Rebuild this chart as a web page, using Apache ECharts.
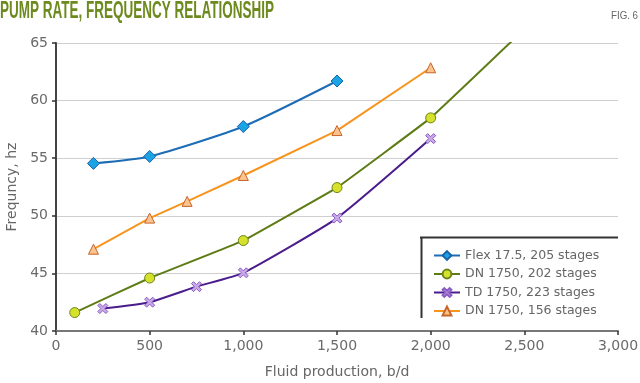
<!DOCTYPE html>
<html><head><meta charset="utf-8">
<script src="https://cdn.jsdelivr.net/npm/echarts@6/dist/echarts.min.js"></script>
<style>html,body{margin:0;padding:0;background:#fff}#c{width:640px;height:383px}</style>
</head><body><div id="c"></div>
<script>
var xTicks = [0, 500, 1000, 1500, 2000, 2500, 3000];
var yTicks = [40, 45, 50, 55, 60, 65];
var seriesNames = ['Flex 17.5, 205 stages', 'DN 1750, 202 stages', 'TD 1750, 223 stages', 'DN 1750, 156 stages'];
var flexX = [200, 500, 1000, 1500];
var flexY = [54.55, 55.15, 57.75, 61.7];
var dn202X = [100, 500, 1000, 1500, 2000, 2500];
var dn202Y = [41.6, 44.6, 47.85, 52.45, 58.5, 66.2];
var tdX = [250, 500, 750, 1000, 1500, 2000];
var tdY = [41.95, 42.5, 43.85, 45.05, 49.8, 56.7];
var dn156X = [200, 500, 700, 1000, 1500, 2000];
var dn156Y = [47.1, 49.8, 51.25, 53.5, 57.4, 62.85];

function pairs(xs, ys) { return xs.map(function (x, i) { return [x, ys[i]]; }); }

var titleText = 'PUMP RATE, FREQUENCY RELATIONSHIP';
var titleFont = 'bold 23px "Liberation Sans Narrow", "Liberation Sans", sans-serif';
var cv = document.createElement('canvas').getContext('2d');
cv.font = titleFont;
var tw = cv.measureText(titleText).width;
var titleScale = 274 / tw;
var figFont = '11px "Liberation Sans Narrow", "Liberation Sans", sans-serif';
cv.font = figFont;
var fw = cv.measureText('FIG. 6').width;
var figScale = 27 / fw;

var crossPath = 'path://M2,0 L5,3 L8,0 L10,2 L7,5 L10,8 L8,10 L5,7 L2,10 L0,8 L3,5 L0,2 Z';

var chart = echarts.init(document.getElementById('c'), null, { renderer: 'canvas' });
var axisFont = 'DejaVu Sans';
chart.setOption({
  animation: false,
  backgroundColor: '#fff',
  grid: { left: 56, right: 22, top: 43, bottom: 52, containLabel: false, outerBoundsMode: 'none' },
  xAxis: {
    type: 'value', min: xTicks[0], max: xTicks[xTicks.length - 1], interval: 500,
    name: 'Fluid production, b/d', nameLocation: 'middle', nameGap: 34,
    nameTextStyle: { fontFamily: axisFont, fontSize: 14, color: '#666' },
    axisLine: { show: true, lineStyle: { color: '#777', width: 2 } },
    axisTick: { show: true, inside: false, length: 4, lineStyle: { color: '#333', width: 1.5 } },
    axisLabel: { fontFamily: axisFont, fontSize: 14, color: '#6a6a6a', margin: 8,
      formatter: function (v) { return v.toLocaleString('en-US'); } },
    splitLine: { show: false }
  },
  yAxis: {
    type: 'value', min: yTicks[0], max: yTicks[yTicks.length - 1], interval: 5,
    name: 'Frequncy, hz', nameLocation: 'middle', nameGap: 36, nameRotate: 90,
    nameTextStyle: { fontFamily: axisFont, fontSize: 14, color: '#666' },
    axisLine: { show: true, lineStyle: { color: '#444', width: 2 } },
    axisTick: { show: true, inside: false, length: 4, lineStyle: { color: '#333', width: 1.5 } },
    axisLabel: { fontFamily: axisFont, fontSize: 14, color: '#6a6a6a', margin: 8 },
    splitLine: { show: true, lineStyle: { color: '#cfcfcf', width: 1 } }
  },
  legend: {
    orient: 'vertical', left: 433, top: 249, itemGap: 5.5, itemWidth: 26, itemHeight: 11,
    padding: 0, z: 10,
    textStyle: { fontFamily: axisFont, fontSize: 12.5, color: '#666' },
    data: seriesNames
  },
  graphic: [
    { type: 'rect', z: 5, shape: { x: 421, y: 237, width: 198, height: 82 }, style: { fill: '#fff' } },
    { type: 'line', z: 6, shape: { x1: 420, y1: 237.5, x2: 618, y2: 237.5 }, style: { stroke: '#333', lineWidth: 2 } },
    { type: 'line', z: 6, shape: { x1: 421.5, y1: 237, x2: 421.5, y2: 318 }, style: { stroke: '#333', lineWidth: 2 } },
    { type: 'text', z: 6, x: 0, y: 0, scaleX: titleScale, style: { text: titleText, font: titleFont, fill: '#6c8a1e' } },
    { type: 'text', z: 6, x: 611, y: 10, scaleX: figScale, style: { text: 'FIG. 6', font: figFont, fill: '#666' } }
  ],
  series: [
    { name: seriesNames[0], type: 'line', smooth: 0.2, data: pairs(flexX, flexY),
      symbol: 'diamond', symbolSize: 12,
      lineStyle: { color: '#1c6cb6', width: 2 },
      itemStyle: { color: '#1ba3e3', borderColor: '#1a62aa', borderWidth: 1 } },
    { name: seriesNames[1], type: 'line', smooth: 0.05, data: pairs(dn202X, dn202Y),
      symbol: 'circle', symbolSize: 10,
      lineStyle: { color: '#5e7c16', width: 2 },
      itemStyle: { color: '#d5e12b', borderColor: '#6f8418', borderWidth: 1 } },
    { name: seriesNames[2], type: 'line', smooth: 0.15, data: pairs(tdX, tdY),
      symbol: crossPath, symbolSize: 10,
      lineStyle: { color: '#4a1c8c', width: 2 },
      itemStyle: { color: '#c9a9e8', borderColor: '#8a5dc2', borderWidth: 1 } },
    { name: seriesNames[3], type: 'line', smooth: false, data: pairs(dn156X, dn156Y),
      symbol: 'triangle', symbolSize: 10,
      lineStyle: { color: '#f7941e', width: 2 },
      itemStyle: { color: '#fbc48e', borderColor: '#c8642a', borderWidth: 1 } }
  ]
});
</script></body></html>
